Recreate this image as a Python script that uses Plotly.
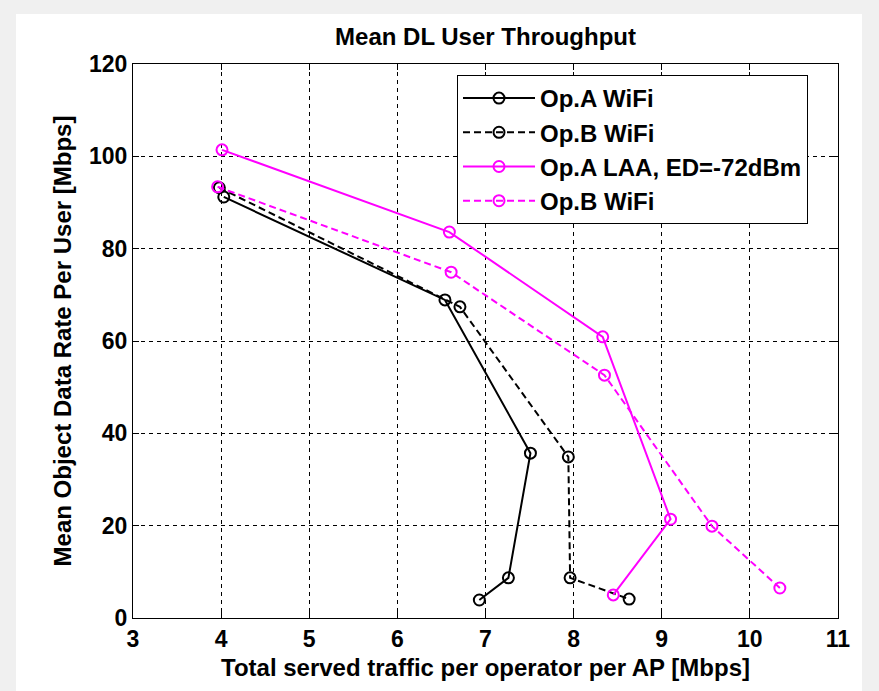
import plotly.graph_objects as go

# Data
opa_wifi_x = [4.03, 6.54, 7.51, 7.26, 6.93]
opa_wifi_y = [91.2, 68.9, 35.7, 8.7, 3.9]

opb_wifi_x = [3.98, 6.71, 7.94, 7.96, 8.63]
opb_wifi_y = [93.2, 67.4, 34.9, 8.7, 4.1]

opa_laa_x = [4.01, 6.59, 8.33, 9.10, 8.45]
opa_laa_y = [101.4, 83.6, 60.9, 21.4, 5.0]

opb_wifi2_x = [3.96, 6.61, 8.35, 9.57, 10.34]
opb_wifi2_y = [93.4, 74.9, 52.6, 19.9, 6.5]

series_names = ["Op.A WiFi", "Op.B WiFi", "Op.A LAA, ED=-72dBm", "Op.B WiFi"]

x_ticks = [3, 4, 5, 6, 7, 8, 9, 10, 11]
y_ticks = [0, 20, 40, 60, 80, 100, 120]

FONT = "Liberation Sans, Arial, sans-serif"
MAG = "#ff00ff"

fig = go.Figure()

specs = [
    (opa_wifi_x, opa_wifi_y, series_names[0], "black", "solid"),
    (opb_wifi_x, opb_wifi_y, series_names[1], "black", "7px,4px"),
    (opa_laa_x, opa_laa_y, series_names[2], MAG, "solid"),
    (opb_wifi2_x, opb_wifi2_y, series_names[3], MAG, "7px,4px"),
]
for xs, ys, name, col, dash in specs:
    fig.add_trace(go.Scatter(
        x=xs, y=ys, name=name, mode="lines+markers",
        line=dict(color=col, width=2, dash=dash),
        marker=dict(symbol="circle-open", size=11, color=col, line=dict(width=2, color=col)),
    ))

L, R, T, B = 133, 41, 64, 73
W, H = 879, 691
pw, ph = W - L - R, H - T - B

def px2paper_x(px):
    return (px - L) / pw

def px2paper_y(py):
    return (H - B - py) / ph

axis_common = dict(
    showline=True, linecolor="black", linewidth=1, mirror="allticks",
    ticks="inside", ticklen=6, tickcolor="black",
    showgrid=True, gridcolor="black", gridwidth=1, griddash="4px,4px",
    zeroline=False,
    tickfont=dict(family=FONT, size=23, color="black", weight="bold"),
)

fig.update_layout(
    width=W, height=H,
    margin=dict(l=L, r=R, t=T, b=B),
    paper_bgcolor="#f0f0f0",
    plot_bgcolor="white",
    title=dict(text="<b>Mean DL User Throughput</b>", x=(L + pw / 2) / W,
               xanchor="center", y=1 - 37 / H, yanchor="middle",
               font=dict(family=FONT, size=24, color="black")),
    xaxis=dict(range=[3, 11], tickvals=x_ticks, ticktext=[str(v) for v in x_ticks],
               title=dict(text="<b>Total served traffic per operator per AP [Mbps]</b>",
                          font=dict(family=FONT, size=24, color="black"), standoff=8),
               **axis_common),
    yaxis=dict(range=[0, 120], tickvals=y_ticks, ticktext=[str(v) for v in y_ticks],
               title=dict(text="<b>Mean Object Data Rate Per User [Mbps]</b>",
                          font=dict(family=FONT, size=24, color="black"), standoff=10),
               **axis_common),
    legend=dict(x=px2paper_x(457), y=px2paper_y(75), xanchor="left", yanchor="top",
                bgcolor="white", bordercolor="black", borderwidth=1,
                font=dict(family=FONT, size=24, color="black", weight="bold"),
                itemwidth=72, tracegroupgap=0),
    showlegend=True,
    shapes=[dict(type="rect", xref="paper", yref="paper", layer="below",
                 x0=px2paper_x(16), x1=px2paper_x(862), y0=px2paper_y(691), y1=px2paper_y(14),
                 fillcolor="white", line=dict(width=0))],
)

fig.write_html("out.html", config={"displayModeBar": False},
               post_script="document.body.style.margin='0';document.body.style.padding='0';document.body.style.overflow='hidden';")
